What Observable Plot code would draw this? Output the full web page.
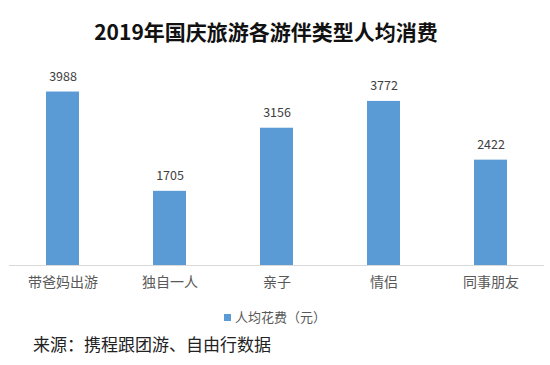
<!DOCTYPE html>
<html>
<head>
<meta charset="utf-8">
<script src="https://cdn.jsdelivr.net/npm/d3@7"></script>
<script src="https://cdn.jsdelivr.net/npm/@observablehq/plot@0.6"></script>
<style>
  body { margin: 0; background: #fff; font-family: "Noto Sans CJK SC", "Noto Sans", sans-serif; }
  #wrap { width: 550px; height: 365px; position: relative; overflow: hidden; }
  #title { position: absolute; top: 17px; left: -9px; width: 550px; text-align: center; font-size: 21px; font-weight: bold; color: #111; line-height: 28px; }
  #chart { position: absolute; top: 55px; left: 0; }
  #legend { position: absolute; top: 307px; left: 0; width: 550px; text-align: center; font-size: 13px; color: #595959; line-height: 20px; }
  #legend .sw { display: inline-block; width: 7px; height: 7px; background: #5b9bd5; margin-right: 4px; vertical-align: 1px; }
  #source { position: absolute; top: 332px; left: 33px; font-size: 17px; color: #222; line-height: 24px; }
</style>
</head>
<body>
<div id="wrap">
  <div id="title"></div>
  <div id="chart"></div>
  <div id="legend"></div>
  <div id="source"></div>
</div>
<script>
const titleText = "2019年国庆旅游各游伴类型人均消费";
const categories = ["带爸妈出游", "独自一人", "亲子", "情侣", "同事朋友"];
const values = [3988, 1705, 3156, 3772, 2422];
const seriesName = "人均花费（元）";
const sourceText = "来源：携程跟团游、自由行数据";

const data = categories.map((c, i) => ({category: c, value: values[i]}));

document.getElementById("title").textContent = titleText;
document.getElementById("legend").innerHTML = '<span class="sw"></span>' + seriesName;
document.getElementById("source").textContent = sourceText;

const chart = Plot.plot({
  width: 550,
  height: 245,
  marginTop: 36,
  marginBottom: 35,
  marginLeft: 9,
  marginRight: 6,
  style: { fontFamily: '"Noto Sans CJK SC", "Noto Sans", sans-serif', background: "#fff" },
  x: { domain: categories, paddingInner: 0.69, paddingOuter: 0.345, align: 0.5, label: null },
  y: { domain: [0, 4000], axis: null },
  marks: [
    Plot.ruleY([0], { stroke: "#d9d9d9", strokeWidth: 1 }),
    Plot.barY(data, { x: "category", y: "value", fill: "#5b9bd5" }),
    Plot.text(data, { x: "category", y: "value", text: d => String(d.value), dy: -15, fill: "#404040", fontSize: 12.5 }),
    Plot.axisX({ tickSize: 0, tickPadding: 12, fontSize: 14, color: "#595959", label: null })
  ]
});
document.getElementById("chart").appendChild(chart);
</script>
</body>
</html>
